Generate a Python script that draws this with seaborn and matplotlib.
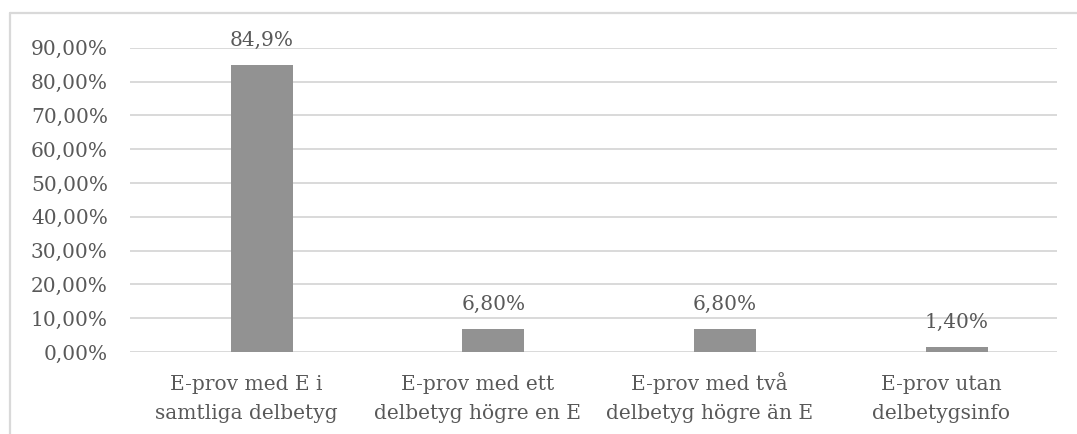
import numpy as np
import pandas as pd
import matplotlib
matplotlib.use("Agg")
import matplotlib.pyplot as plt
from matplotlib.ticker import FuncFormatter, MultipleLocator
from matplotlib.lines import Line2D
import seaborn as sns

# Share of E-grade tests by sub-grade composition
categories = [
    "E-prov med E i\nsamtliga delbetyg",
    "E-prov med ett\ndelbetyg högre en E",
    "E-prov med två\ndelbetyg högre än E",
    "E-prov utan\ndelbetygsinfo",
]
shares = [0.849, 0.068, 0.068, 0.014]
label_decimals = [1, 2, 2, 2]

sns.set_theme(style="white")
plt.rcParams["font.family"] = ["DejaVu Serif"]

TEXT = "#595959"
GRID = "#d9d9d9"
BAR = "#929292"

fig = plt.figure(figsize=(10.77, 4.34), dpi=100)
W, H = 1077, 434
ax = fig.add_axes([130 / W, 1 - 352 / H, (1057 - 130) / W, (352 - 47.7) / H])

idx = np.arange(len(categories))
bar_pos = idx + 0.068
df = pd.DataFrame({"pos": bar_pos, "share": shares})

sns.barplot(data=df, x="pos", y="share", native_scale=True, width=0.268,
            color=BAR, saturation=1, edgecolor="none", ax=ax, zorder=3)

ax.set_xlim(-0.5, len(categories) - 0.5)
ax.set_ylim(0, 0.9)
ax.yaxis.set_major_locator(MultipleLocator(0.1))
ax.yaxis.set_major_formatter(
    FuncFormatter(lambda v, _: f"{v * 100:.2f}%".replace(".", ",")))
ax.set_xticks(idx)
ax.set_xticklabels(categories, linespacing=1.63)
ax.set_xlabel("")
ax.set_ylabel("")

ax.grid(axis="y", color=GRID, linewidth=1.4, zorder=0)
ax.grid(axis="x", visible=False)
for s in ax.spines.values():
    s.set_visible(False)

ax.tick_params(axis="y", length=0, pad=16, labelsize=14.5, labelcolor=TEXT)
ax.tick_params(axis="x", length=0, pad=48.2, labelsize=14.5, labelcolor=TEXT)
# anchor category labels on the last line's baseline so accented letters
# do not shift the text blocks
for lbl in ax.get_xticklabels():
    lbl.set_verticalalignment("baseline")

for x, v, d in zip(bar_pos, shares, label_decimals):
    ax.annotate(f"{v * 100:.{d}f}%".replace(".", ","), (x, v),
                xytext=(0, 13.7), textcoords="offset points",
                ha="center", va="baseline", fontsize=14.5, color=TEXT,
                annotation_clip=False, zorder=4)

# Chart frame (left and top edges)
fx, fy = 10 / W, 1 - 13 / H
fig.add_artist(Line2D([fx, fx], [-0.05, fy], transform=fig.transFigure,
                      color=GRID, linewidth=1.6))
fig.add_artist(Line2D([fx, 1.05], [fy, fy], transform=fig.transFigure,
                      color=GRID, linewidth=1.6))

fig.savefig("out.png", dpi=100, facecolor="white")
